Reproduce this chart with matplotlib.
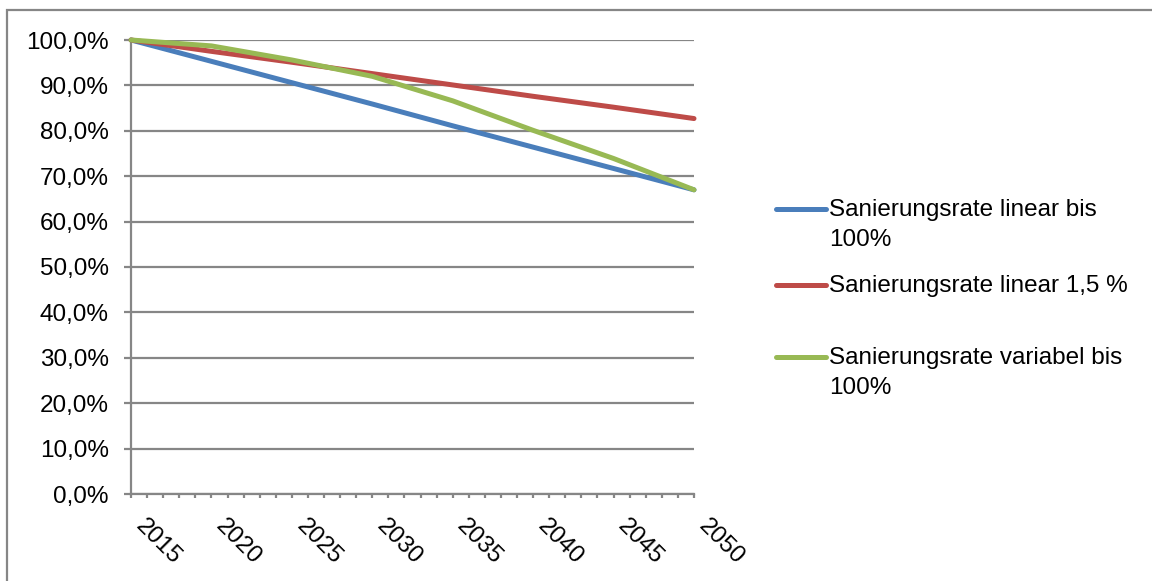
import numpy as np
import matplotlib.pyplot as plt
from matplotlib.lines import Line2D
from matplotlib.patches import Rectangle
from matplotlib.ticker import FuncFormatter, MultipleLocator

plt.rcParams['font.family'] = ['Liberation Sans', 'DejaVu Sans']

# Anteil (%) je Stützjahr
years = [2015, 2020, 2025, 2030, 2035, 2040, 2045, 2050]
linear_100 = [100.0, 95.3, 90.6, 85.9, 81.1, 76.4, 71.7, 67.0]
linear_15 = [100.0, 97.5, 95.1, 92.6, 90.1, 87.6, 85.2, 82.7]
variabel_100 = [100.0, 98.7, 95.6, 92.0, 86.6, 80.1, 73.9, 67.0]

labels = ['Sanierungsrate linear bis\n100%',
          'Sanierungsrate linear 1,5 %',
          'Sanierungsrate variabel bis\n100%']
colors = ['#4A7EBB', '#BE4B48', '#98B954']
grey = '#868686'
fs = 17.5

fig = plt.figure(figsize=(11.52, 5.81), dpi=100)
ax = fig.add_axes([131 / 1152, 1 - 494 / 581, (694 - 131) / 1152, (494 - 40) / 581])

# outer frame of the chart area (right and bottom edges lie outside the image)
fig.patches.append(Rectangle((7 / 1152, -0.1), 1.2, 1 - 10 / 581 + 0.1,
                             transform=fig.transFigure, fill=False,
                             edgecolor=grey, linewidth=1.6))

series = [linear_100, linear_15, variabel_100]
for vals, c in zip(series, colors):
    ax.plot(years, vals, color=c, linewidth=3.6, solid_capstyle='round',
            solid_joinstyle='round', clip_on=False, zorder=3)

ax.set_xlim(2015, 2050)
ax.set_ylim(0, 100)
ax.yaxis.set_major_locator(MultipleLocator(10))
ax.yaxis.set_major_formatter(FuncFormatter(lambda v, p: f'{v:.1f}%'.replace('.', ',')))
ax.xaxis.set_major_locator(MultipleLocator(5))
ax.xaxis.set_minor_locator(MultipleLocator(1))
ax.grid(axis='y', color=grey, linewidth=1.6)
ax.set_axisbelow(True)

for s in ['top', 'right']:
    ax.spines[s].set_visible(False)
for s in ['left', 'bottom']:
    ax.spines[s].set_color(grey)
    ax.spines[s].set_linewidth(1.6)

ax.tick_params(axis='y', length=5, width=1.6, color=grey, labelsize=fs, pad=11)
ax.tick_params(axis='x', which='both', length=3, width=1.6, color=grey)
ax.tick_params(axis='x', which='major', labelsize=fs, pad=12)
for lab in ax.get_xticklabels():
    lab.set_rotation(-45)
    lab.set_ha('left')
    lab.set_va('top')

# legend drawn by hand so the line marks the first text row
leg_rows = [209, 285, 357]
for lab, c, yr in zip(labels, colors, leg_rows):
    yf = 1 - yr / 581
    fig.add_artist(Line2D([776 / 1152, 826 / 1152], [yf, yf], color=c,
                          linewidth=3.6, solid_capstyle='round',
                          transform=fig.transFigure))
    fig.text(829 / 1152, yf + 10 / 581, lab, fontsize=fs, ha='left', va='top',
             linespacing=1.45)

fig.savefig('out.png', dpi=100)
